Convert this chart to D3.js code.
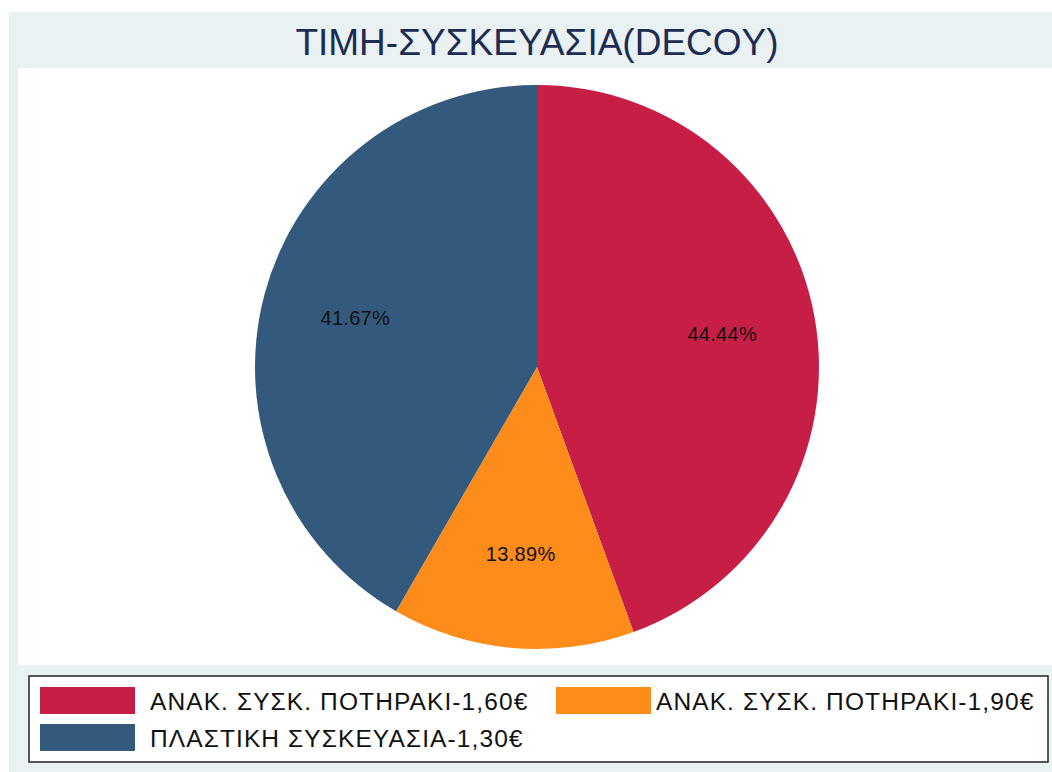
<!DOCTYPE html>
<html>
<head>
<meta charset="utf-8">
<script src="https://cdn.jsdelivr.net/npm/d3@7"></script>
<style>
  body { margin: 0; background: #fff; }
  svg { display: block; font-family: "Liberation Sans", Arial, sans-serif; }
</style>
</head>
<body>
<div id="chart"></div>
<script>
//chart data
const title = "ΤΙΜΗ-ΣΥΣΚΕΥΑΣΙΑ(DECOY)";
const categories = ["ΑΝΑΚ. ΣΥΣΚ. ΠΟΤΗΡΑΚΙ-1,60€", "ΑΝΑΚ. ΣΥΣΚ. ΠΟΤΗΡΑΚΙ-1,90€", "ΠΛΑΣΤΙΚΗ ΣΥΣΚΕΥΑΣΙΑ-1,30€"];
const shares = [44.44, 13.89, 41.67];
const colors = ["#c71e46", "#fe8c1b", "#33597c"];

const W = 1052, H = 772;
const bg = "#eaf1f3";

const svg = d3.select("#chart")
    .append("svg")
    .attr("width", W)
    .attr("height", H);

//outer panel + title band
svg.append("rect")
    .attr("x", 9).attr("y", 12)
    .attr("width", W - 9).attr("height", H - 12)
    .attr("fill", bg);

//plot region
svg.append("rect")
    .attr("x", 18).attr("y", 68)
    .attr("width", W - 18).attr("height", 597)
    .attr("fill", "#fff");

svg.append("text")
    .attr("x", 537).attr("y", 55)
    .attr("text-anchor", "middle")
    .attr("fill", "#1c2c52")
    .style("font-size", "37px")
    .text(title);

//pie
const cx = 537, cy = 367, r = 282;
const data = categories.map((c, i) => ({ cat: c, value: shares[i], color: colors[i] }));

const pie = d3.pie().sort(null).value(d => d.value);
const arc = d3.arc().innerRadius(0).outerRadius(r);
const labelArc = d3.arc().innerRadius(r * 0.667).outerRadius(r * 0.667);

const g = svg.append("g").attr("transform", `translate(${cx},${cy})`);
const arcs = pie(data);

g.selectAll("path")
    .data(arcs)
    .enter().append("path")
    .attr("d", arc)
    .attr("fill", d => d.data.color);

g.selectAll("text")
    .data(arcs)
    .enter().append("text")
    .attr("transform", d => `translate(${labelArc.centroid(d)})`)
    .attr("text-anchor", "middle")
    .attr("dy", "0.35em")
    .style("font-size", "20px")
    .style("letter-spacing", "0.3px")
    .attr("fill", "#111")
    .text(d => d3.format(".2f")(d.data.value) + "%");

//legend
svg.append("rect")
    .attr("x", 29).attr("y", 676)
    .attr("width", 1019).attr("height", 86)
    .attr("fill", "#fff")
    .attr("stroke", "#222")
    .attr("stroke-width", 1.5);

const colX = [40, 556];
const textX = [150, 656];
const rowY = [687, 724];

const legend = svg.append("g");
data.forEach((d, i) => {
    const col = i % 2, row = Math.floor(i / 2);
    legend.append("rect")
        .attr("x", colX[col]).attr("y", rowY[row])
        .attr("width", 95).attr("height", 27)
        .attr("fill", d.color);
    legend.append("text")
        .attr("x", textX[col]).attr("y", rowY[row] + 23)
        .style("font-size", "24.5px")
        .style("letter-spacing", "1.1px")
        .attr("fill", "#111")
        .text(d.cat);
});
</script>
</body>
</html>
